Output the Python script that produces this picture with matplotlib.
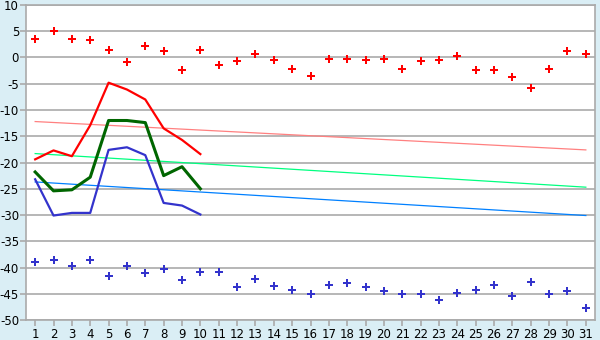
import numpy as np
import matplotlib.pyplot as plt

plt.rcParams['axes.unicode_minus'] = False

days = list(range(1, 32))
line_days = list(range(1, 11))

red_dots = [3.5, 5.0, 3.5, 3.3, 1.4, -0.9, 2.1, 1.2, -2.4, 1.4,
            -1.5, -0.7, 0.6, -0.5, -2.1, -3.6, -0.3, -0.2, -0.5, -0.2,
            -2.1, -0.7, -0.5, 0.2, -2.4, -2.4, -3.8, -5.9, -2.1, 1.2, 0.6]
blue_dots = [-39.0, -38.6, -39.7, -38.6, -41.7, -39.7, -41.1, -40.2, -42.3, -40.9,
             -40.9, -43.8, -42.1, -43.6, -44.3, -45.1, -43.4, -43.0, -43.8, -44.5,
             -45.1, -45.1, -46.1, -44.9, -44.3, -43.4, -45.5, -42.8, -45.1, -44.5, -47.8]

red_line = [-19.4, -17.7, -18.8, -12.9, -4.8, -6.1, -8.0, -13.5, -15.7, -18.4]
green_line = [-21.8, -25.4, -25.2, -22.8, -12.0, -12.0, -12.4, -22.5, -20.8, -25.0]
blue_line = [-23.2, -30.1, -29.6, -29.6, -17.6, -17.1, -18.6, -27.7, -28.2, -29.9]

# trend lines: value at day 1 and day 31
trend_days = [1, 31]
red_trend = [-12.2, -17.6]
green_trend = [-18.3, -24.7]
blue_trend = [-23.7, -30.1]

bg = '#daeef5'
fig = plt.figure(figsize=(6, 3.4), dpi=100, facecolor=bg)
ax = fig.add_axes([0.0433, 0.0588, 0.9484, 0.9265])
ax.set_facecolor('white')

ax.plot(trend_days, red_trend, color='#ff8080', lw=0.9)
ax.plot(trend_days, green_trend, color='#00ff80', lw=0.9)
ax.plot(trend_days, blue_trend, color='#0080ff', lw=0.9)

ax.plot(line_days, red_line, color='#ff0000', lw=1.6)
ax.plot(line_days, green_line, color='#006600', lw=2.2)
ax.plot(line_days, blue_line, color='#3333cc', lw=1.6)

ax.plot(days, red_dots, 'P', color='#ff0000', ms=5.5, mew=0, ls='none')
ax.plot(days, blue_dots, 'P', color='#3333cc', ms=5.5, mew=0, ls='none')

ax.set_xlim(0.5, 31.5)
ax.set_ylim(-50, 10)
ax.set_xticks(days)
ax.set_yticks(np.arange(-50, 11, 5))
ax.yaxis.grid(True, color='#aaaaaa', lw=1.2)
ax.set_axisbelow(True)
for s in ax.spines.values():
    s.set_color('#aaaaaa')
    s.set_linewidth(1.2)
ax.tick_params(colors='#aaaaaa', labelcolor='black', labelsize=8.5, length=4, width=1.2)
ax.tick_params(axis='x', pad=1.5)
ax.tick_params(axis='y', pad=1)

fig.savefig('out.png', dpi=100, facecolor=bg)
